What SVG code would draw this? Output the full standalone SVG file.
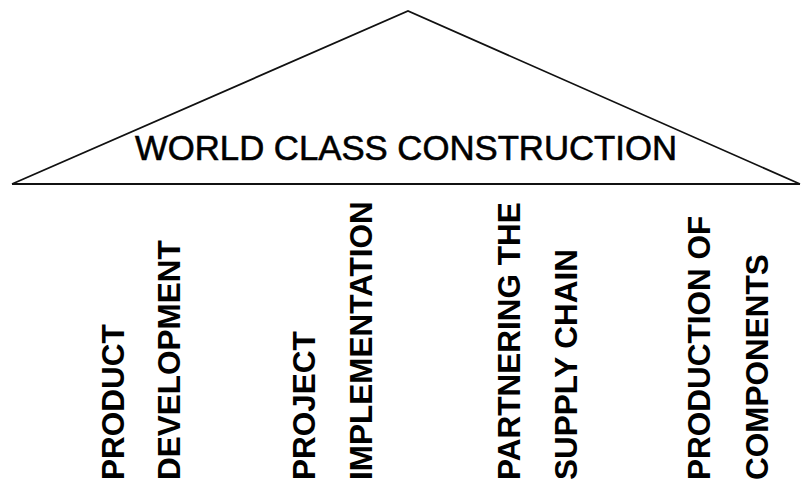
<svg xmlns="http://www.w3.org/2000/svg" width="802" height="493" viewBox="0 0 802 493">
<style>
.pillar{font-family:"Liberation Sans",Arial,sans-serif;font-weight:bold;font-size:31.5px;fill:#000}
.title{font-family:"Liberation Sans",Arial,sans-serif;font-size:35px;fill:#000;stroke:#000;stroke-width:0.6px}
</style>
<rect width="802" height="493" fill="#fff"/>
<g id="roof">
<polyline points="12,184 408,11 800,184" fill="none" stroke="#111" stroke-width="1.8" stroke-linejoin="miter"/>
<line x1="12" y1="184" x2="800" y2="184" stroke="#111" stroke-width="2.2"/>
<text class="title" x="135" y="160" textLength="542" lengthAdjust="spacingAndGlyphs">WORLD CLASS CONSTRUCTION</text>
</g>
<g id="pillar-product-development">
<text class="pillar" transform="translate(124,480) rotate(-90)">PRODUCT</text>
<text class="pillar" transform="translate(180,480) rotate(-90)">DEVELOPMENT</text>
</g>
<g id="pillar-project-implementation">
<text class="pillar" transform="translate(315,480) rotate(-90)">PROJECT</text>
<text class="pillar" transform="translate(372,480) rotate(-90)">IMPLEMENTATION</text>
</g>
<g id="pillar-partnering">
<text class="pillar" transform="translate(520,480) rotate(-90)">PARTNERING THE</text>
<text class="pillar" transform="translate(577,480) rotate(-90)">SUPPLY CHAIN</text>
</g>
<g id="pillar-production">
<text class="pillar" transform="translate(710,480) rotate(-90)">PRODUCTION OF</text>
<text class="pillar" transform="translate(768,480) rotate(-90)">COMPONENTS</text>
</g>
</svg>
